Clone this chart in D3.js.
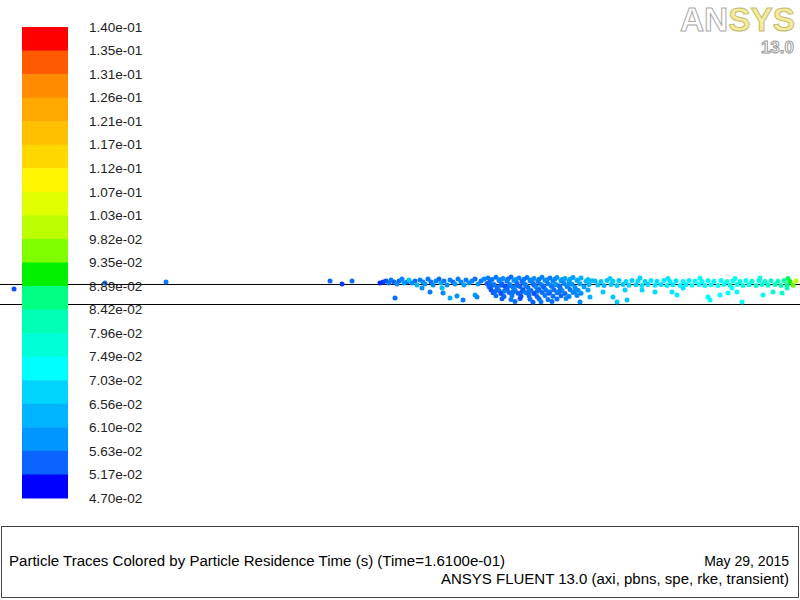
<!DOCTYPE html>
<html>
<head>
<meta charset="utf-8">
<script src="https://cdn.jsdelivr.net/npm/d3@7"></script>
<style>
  body { margin: 0; background: #fff; }
  text { font-family: "Liberation Sans", Arial, sans-serif; }
</style>
</head>
<body>
<script>
// colour bar, top to bottom
var bandColors = ["#ff0000", "#ff5a00", "#ff8c00", "#ffa800", "#ffc000", "#ffd800", "#fff500", "#e0ff00",
    "#bcff00", "#80ff00", "#00f000", "#00ff82", "#00ffb4", "#00ffd6", "#00ffff", "#00d4ff",
    "#00b4ff", "#0096ff", "#0a64ff", "#0000ff"];
var tickLabels = ["1.40e-01", "1.35e-01", "1.31e-01", "1.26e-01", "1.21e-01", "1.17e-01", "1.12e-01",
    "1.07e-01", "1.03e-01", "9.82e-02", "9.35e-02", "8.89e-02", "8.42e-02", "7.96e-02", "7.49e-02",
    "7.03e-02", "6.56e-02", "6.10e-02", "5.63e-02", "5.17e-02", "4.70e-02"];
var tMin = 0.047, tMax = 0.140;

// particles: [axial position, radial position, residence time]
var strayParticles = [
    [14, 7.5, 0.053], [105, 10.5, 0.056], [166, 11, 0.056], [330, 11.5, 0.054], [342, 10, 0.052], [352, 11.5, 0.055]
];
var leadingBand = [
    [380, 10.5, 0.051], [383, 11, 0.052], [386, 11.5, 0.053], [389, 10.5, 0.055], [391, 12, 0.056], [394, 11, 0.054],
    [397, 10, 0.058], [399, 11.5, 0.055], [402, 12.5, 0.057], [404, 10.5, 0.060], [407, 11, 0.056], [409, 12, 0.066],
    [412, 10.5, 0.058], [415, 11.5, 0.055], [417, 9.5, 0.064], [420, 12, 0.056], [423, 11, 0.057], [425, 10, 0.059],
    [428, 12.5, 0.056], [431, 11, 0.055], [433, 9.5, 0.058], [436, 11.5, 0.057], [439, 12.5, 0.055], [441, 10.5, 0.062],
    [444, 11.5, 0.056], [447, 9.5, 0.058], [450, 12, 0.057], [453, 11, 0.055], [455, 10, 0.059], [458, 12.5, 0.056],
    [461, 11, 0.057], [464, 9.5, 0.060], [466, 12, 0.056], [469, 10.5, 0.058], [472, 11.5, 0.057], [475, 12.5, 0.055],
    [478, 10, 0.059], [481, 11.5, 0.056], [484, 12.5, 0.057],
    [395, 3, 0.055], [422, 8, 0.058], [430, 6, 0.056], [442, 8, 0.064], [443, 5.5, 0.057], [450, 3, 0.062],
    [457, 4, 0.058], [463, 2, 0.056], [475, 4.5, 0.060], [477, 3.5, 0.057]
];
var coreCluster = [
    [488, 13, 0.057], [496, 13.4, 0.056], [503, 12.8, 0.058], [511, 13.5, 0.055], [519, 13, 0.057], [527, 13.3, 0.056],
    [534, 12.7, 0.058], [542, 13.4, 0.057], [550, 13, 0.056], [557, 13.2, 0.059], [565, 12.8, 0.061], [573, 13.3, 0.060], [581, 13, 0.063],
    [492, 12.3, 0.056], [500, 12.1, 0.057], [508, 12.5, 0.055], [516, 12.2, 0.057], [524, 12.4, 0.056], [531, 12, 0.058],
    [539, 12.4, 0.056], [547, 12.1, 0.057], [555, 12.5, 0.058], [562, 12.2, 0.060], [570, 12.4, 0.061], [578, 12, 0.063], [588, 12.3, 0.065],
    [490, 11.3, 0.055], [499, 11.8, 0.057], [507, 11.4, 0.056], [514, 11.7, 0.058], [522, 11.2, 0.055], [530, 11.6, 0.057],
    [538, 11.3, 0.056], [545, 11.8, 0.058], [553, 11.4, 0.057], [561, 11.6, 0.059], [569, 11.2, 0.060], [577, 11.7, 0.062],
    [586, 11.4, 0.064], [592, 11.6, 0.065],
    [487, 10.2, 0.054], [494, 9.8, 0.056], [502, 10.1, 0.055], [510, 9.7, 0.057], [517, 10.3, 0.054], [525, 9.9, 0.056],
    [533, 10.2, 0.055], [541, 9.8, 0.057], [548, 10.1, 0.056], [556, 9.7, 0.058], [564, 10.3, 0.057], [572, 9.9, 0.059],
    [580, 10.1, 0.061], [589, 9.8, 0.063],
    [492, 9.2, 0.055], [501, 9.4, 0.054], [509, 9, 0.056], [517, 9.3, 0.055], [526, 9.1, 0.057], [534, 9.4, 0.055],
    [543, 9, 0.056], [551, 9.3, 0.058], [559, 9.1, 0.057], [568, 9.4, 0.059],
    [489, 8.6, 0.054], [497, 8.3, 0.055], [505, 8.7, 0.053], [513, 8.4, 0.056], [520, 8.8, 0.054], [528, 8.2, 0.055],
    [536, 8.6, 0.057], [544, 8.3, 0.054], [552, 8.7, 0.056], [560, 8.4, 0.055], [567, 8.8, 0.057], [575, 8.3, 0.058], [584, 8.6, 0.060],
    [491, 7.1, 0.053], [499, 6.8, 0.055], [507, 7.2, 0.054], [515, 6.9, 0.056], [523, 7.1, 0.053], [531, 6.7, 0.055],
    [539, 7.2, 0.054], [546, 6.9, 0.056], [554, 7.1, 0.055], [562, 6.8, 0.057], [570, 7.2, 0.056], [578, 6.9, 0.058], [588, 7, 0.061],
    [495, 6.2, 0.054], [504, 6.4, 0.056], [513, 6, 0.055], [522, 6.3, 0.054], [529, 6.1, 0.056], [537, 6.4, 0.055],
    [550, 6.1, 0.057], [559, 6.3, 0.055], [575, 6.2, 0.058],
    [493, 5.6, 0.054], [501, 5.3, 0.053], [509, 5.7, 0.055], [518, 5.4, 0.054], [526, 5.6, 0.056], [534, 5.2, 0.053],
    [542, 5.7, 0.055], [549, 5.4, 0.054], [557, 5.6, 0.056], [565, 5.3, 0.055], [573, 5.7, 0.057], [581, 5.4, 0.058],
    [496, 4.1, 0.055], [504, 3.8, 0.054], [512, 4.2, 0.056], [521, 3.9, 0.053], [529, 4.1, 0.055], [537, 3.7, 0.054],
    [545, 4.2, 0.056], [553, 3.9, 0.055], [561, 4.1, 0.054], [569, 3.8, 0.056], [577, 4.2, 0.057],
    [502, 2.6, 0.054], [511, 2.3, 0.056], [520, 2.7, 0.053], [530, 2.4, 0.055], [539, 2.6, 0.054], [548, 2.2, 0.056],
    [557, 2.5, 0.055], [566, 2.7, 0.057],
    [515, 1.2, 0.055], [533, 0.9, 0.054], [541, 1.1, 0.056], [552, 1.3, 0.055], [580, 1, 0.058]
];
var trailingBand = [
    [595, 11.5, 0.064], [601, 11.2, 0.066], [607, 11.8, 0.065], [613, 11.4, 0.067], [619, 11.7, 0.066], [626, 11.3, 0.068],
    [632, 11.8, 0.067], [638, 11.5, 0.069], [645, 11.2, 0.068], [651, 11.7, 0.070], [657, 11.4, 0.069], [664, 11.8, 0.070],
    [670, 11.3, 0.071], [676, 11.6, 0.070], [683, 11.2, 0.072], [689, 11.8, 0.071], [695, 11.5, 0.072], [702, 11.3, 0.073],
    [708, 11.7, 0.072], [714, 11.4, 0.074], [721, 11.8, 0.073], [727, 11.3, 0.075], [733, 11.6, 0.074], [740, 11.2, 0.076],
    [746, 11.7, 0.075], [752, 11.4, 0.077], [759, 11.8, 0.076], [765, 11.3, 0.078], [771, 11.6, 0.079], [778, 11.4, 0.080],
    [784, 11.7, 0.083], [790, 11.2, 0.092], [796, 11.5, 0.101],
    [598, 9.5, 0.065], [604, 9.2, 0.064], [611, 9.7, 0.066], [617, 9.3, 0.067], [623, 9.8, 0.066], [629, 9.4, 0.068],
    [636, 9.6, 0.067], [642, 9.2, 0.069], [648, 9.7, 0.068], [655, 9.4, 0.070], [661, 9.8, 0.069], [667, 9.3, 0.071],
    [673, 9.6, 0.070], [680, 9.2, 0.072], [686, 9.7, 0.071], [692, 9.4, 0.073], [699, 9.8, 0.072], [705, 9.3, 0.074],
    [711, 9.6, 0.073], [718, 9.2, 0.075], [724, 9.7, 0.074], [730, 9.4, 0.076], [737, 9.8, 0.075], [743, 9.3, 0.077],
    [749, 9.6, 0.076], [756, 9.2, 0.078], [762, 9.7, 0.077], [768, 9.4, 0.079], [775, 9.8, 0.080], [781, 9.3, 0.082],
    [787, 9.6, 0.086], [793, 9.4, 0.095],
    [610, 12.8, 0.067], [640, 13, 0.068], [668, 12.7, 0.070], [700, 12.9, 0.072], [735, 12.8, 0.074], [760, 13, 0.077], [788, 12.8, 0.088],
    [590, 3.5, 0.063], [603, 6, 0.066], [613, 3.5, 0.065], [617, 1, 0.066], [625, 7, 0.067], [627, 2, 0.066],
    [642, 7, 0.068], [655, 6, 0.069], [672, 6, 0.070], [677, 4.5, 0.071], [683, 8, 0.070], [708, 3.5, 0.072],
    [710, 2, 0.073], [720, 4.5, 0.072], [728, 5.5, 0.074], [732, 8, 0.073], [737, 6, 0.075], [742, 1, 0.074],
    [763, 4.5, 0.076], [773, 6, 0.078], [782, 5.5, 0.079], [787, 8, 0.081]
];
var wallRadii = [0, 10];

var titleText = "Particle Traces Colored by Particle Residence Time (s)  (Time=1.6100e-01)";
var dateText = "May 29, 2015";
var solverText = "ANSYS FLUENT 13.0 (axi, pbns, spe, rke, transient)";

var width = 800, height = 600;
var svg = d3.select("body").append("svg").attr("width", width).attr("height", height);

var x = d3.scaleLinear().domain([0, 800]).range([0, 800]);
var y = d3.scaleLinear().domain([0, 10]).range([304, 284]);

// colour for a residence time: band midpoints
var nb = bandColors.length;
var barIndex = d3.scaleLinear().domain([0, nb]).range([27, 498]);
var tIndex = d3.scaleLinear().domain([tMax, tMin]).range([0, nb]);
var mids = bandColors.map(function (c, i) { return tIndex.invert(i + 0.5); });
var color = d3.scaleLinear().domain(mids).range(bandColors).clamp(true);

// wall lines
svg.append("g").selectAll("line").data(wallRadii).enter().append("line")
    .attr("x1", 0).attr("x2", width)
    .attr("y1", function (d) { return Math.round(y(d)) + 0.5; })
    .attr("y2", function (d) { return Math.round(y(d)) + 0.5; })
    .attr("stroke", "#000").attr("stroke-width", 1);

var allParticles = strayParticles.concat(leadingBand, coreCluster, trailingBand);
svg.append("g").selectAll("circle").data(allParticles).enter().append("circle")
    .attr("cx", function (d) { return x(d[0]); })
    .attr("cy", function (d) { return y(d[1]); })
    .attr("r", 2.5)
    .attr("fill", function (d) { return color(d[2]); });

// colour bar
svg.append("g").selectAll("rect").data(bandColors).enter().append("rect")
    .attr("x", 22).attr("width", 46)
    .attr("y", function (d, i) { return barIndex(i); })
    .attr("height", function (d, i) { return barIndex(i + 1) - barIndex(i) + 0.5; })
    .attr("fill", function (d) { return d; });

svg.append("g").selectAll("text").data(tickLabels).enter().append("text")
    .attr("x", 89)
    .attr("y", function (d, i) { return barIndex(i); })
    .attr("dy", "0.35em")
    .attr("font-size", 13.5)
    .attr("fill", "#222")
    .text(function (d) { return d; });

// footer box
svg.append("rect").attr("x", 1.5).attr("y", 526.5).attr("width", 797).attr("height", 71)
    .attr("fill", "none").attr("stroke", "#444").attr("stroke-width", 1);
svg.append("text").attr("x", 9).attr("y", 566).attr("font-size", 14).attr("fill", "#000")
    .attr("textLength", 496).attr("lengthAdjust", "spacingAndGlyphs").text(titleText);
svg.append("text").attr("x", 789).attr("y", 566).attr("font-size", 14).attr("fill", "#000")
    .attr("text-anchor", "end").text(dateText);
svg.append("text").attr("x", 441).attr("y", 584).attr("font-size", 14).attr("fill", "#000")
    .attr("textLength", 348).attr("lengthAdjust", "spacingAndGlyphs").text(solverText);

// logo
var logo = svg.append("text").attr("x", 680).attr("y", 31)
    .attr("font-size", 34).attr("font-weight", "bold")
    .attr("textLength", 115).attr("lengthAdjust", "spacingAndGlyphs")
    .attr("stroke-width", 1);
logo.append("tspan").attr("fill", "#fff").attr("stroke", "#aaa").text("AN");
logo.append("tspan").attr("fill", "#f4ec9c").attr("stroke", "#c4bb70").text("SYS");
svg.append("text").attr("x", 794).attr("y", 53).attr("text-anchor", "end")
    .attr("font-size", 17).attr("font-weight", "bold")
    .attr("fill", "#fff").attr("stroke", "#999").attr("stroke-width", 1)
    .text("13.0");
</script>
</body>
</html>
